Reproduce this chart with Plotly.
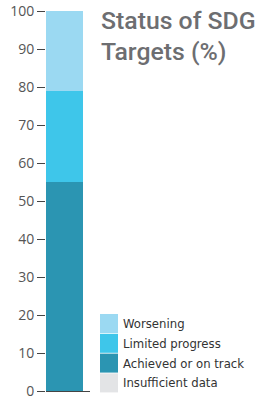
import plotly.graph_objects as go

categories = ["Achieved or on track", "Limited progress", "Worsening"]
values = [55, 24, 21]
colors = ["#2b95b2", "#3ec6ea", "#9bd9f2"]
legend_labels = ["Worsening", "Limited progress", "Achieved or on track", "Insufficient data"]
legend_colors = ["#9bd9f2", "#3ec6ea", "#2b95b2", "#e3e4e6"]
y_ticks = [0, 10, 20, 30, 40, 50, 60, 70, 80, 90, 100]
title_lines = ["Status of SDG", "Targets (%)"]

fig = go.Figure()
for name, v, c in zip(categories, values, colors):
    fig.add_trace(go.Bar(x=[0], y=[v], name=name, marker=dict(color=c, line=dict(width=0)),
                         width=1, showlegend=False, hoverinfo="skip"))

W, H = 259, 396
ml, plot_right, mt, plot_bottom = 46, 90, 11, 391
mr, mb = W - plot_right, H - plot_bottom
PW, PH = W - ml - mr, H - mt - mb


def px(x):
    return (x - ml) / PW


def py(y):
    return (plot_bottom - y) / PH


fig.update_layout(
    width=W, height=H, barmode="stack",
    margin=dict(l=ml, r=mr, t=mt, b=mb, pad=0, autoexpand=False),
    paper_bgcolor="white", plot_bgcolor="white",
    xaxis=dict(range=[-0.5, 0.5 + 7 / 37], showticklabels=False, ticks="", showgrid=False,
               zeroline=False, showline=True, linecolor="#444", linewidth=1, automargin=False),
    yaxis=dict(range=[0, 100], tickvals=y_ticks, ticks="outside", ticklen=8, tickcolor="#444",
               tickwidth=1, showgrid=False, zeroline=False, showline=False, automargin=False,
               ticklabeloverflow="allow",
               tickfont=dict(family="Open Sans", size=14, color="#555")),
    showlegend=False,
)

for line, yc in zip(title_lines, [20.5, 51.5]):
    fig.add_annotation(x=px(99), y=py(yc), xref="paper", yref="paper", xanchor="left",
                       yanchor="middle", align="left", showarrow=False, text=line,
                       font=dict(family="Roboto", size=24.8, color="#6d6e71", weight=500))

# custom legend
top = 314
step = 19.8
for i, (lab, col) in enumerate(zip(legend_labels, legend_colors)):
    y0 = top + i * step
    y1 = y0 + 19
    fig.add_shape(type="rect", xref="paper", yref="paper",
                  x0=px(100), x1=px(118), y0=py(y1), y1=py(y0),
                  fillcolor=col, line=dict(width=0), layer="above")
    fig.add_annotation(x=px(121), y=py(y0 + 9.5),
                       xref="paper", yref="paper", xanchor="left", yanchor="middle",
                       showarrow=False, text=lab,
                       font=dict(family="'DejaVu Sans Condensed', 'Roboto Condensed', 'Liberation Sans Narrow', Roboto",
                                 size=13, color="#333"))

fig.write_html("out.html", config={"displayModeBar": False},
               post_script="document.body.style.margin='0';document.documentElement.style.margin='0';")
